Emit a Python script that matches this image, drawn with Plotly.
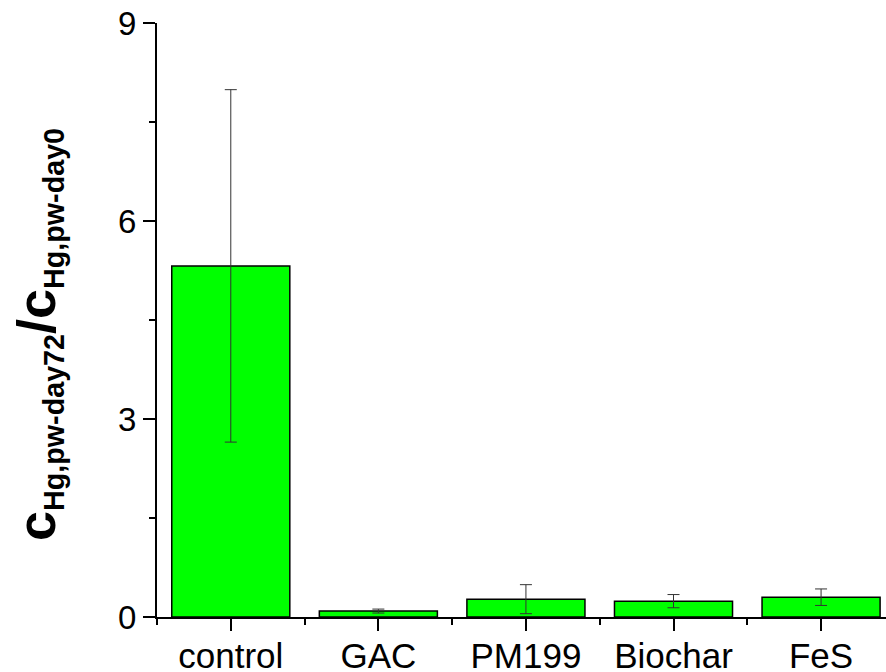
import plotly.graph_objects as go

categories = ["control", "GAC", "PM199", "Biochar", "FeS"]
values = [5.32, 0.09, 0.27, 0.24, 0.30]
errors = [2.67, 0.03, 0.22, 0.10, 0.125]
y_ticks = [0, 3, 6, 9]

xpos = list(range(len(categories)))

fig = go.Figure()
fig.add_trace(go.Bar(
    x=xpos, y=values, width=0.8,
    marker=dict(color="#00ff00", line=dict(color="black", width=1.5)),
    error_y=dict(type="data", array=errors, visible=True, color="#333333", thickness=1, width=6),
))

W, H = 886, 672
ml, mr, mt, mb = 157, 0, 23, 55
fig.update_layout(
    width=W, height=H,
    margin=dict(l=ml, r=mr, t=mt, b=mb, autoexpand=False),
    plot_bgcolor="white", paper_bgcolor="white",
    showlegend=False,
    font=dict(family="Liberation Sans, Arial, sans-serif", color="black"),
)
fig.update_xaxes(
    range=[-0.5, 4.44], automargin=False,
    tickmode="array", tickvals=xpos, ticktext=categories,
    ticks="outside", ticklen=12, tickwidth=2, tickcolor="black",
    tickfont=dict(size=35, family="Liberation Sans, Arial, sans-serif", color="black"),
    ticklabelstandoff=-5,
    showline=True, linecolor="black", linewidth=2,
    showgrid=False, zeroline=False,
    minor=dict(tickvals=[i - 0.5 for i in xpos], ticks="outside", ticklen=6, tickwidth=2, tickcolor="black"),
)
fig.update_yaxes(
    range=[0, 9], automargin=False,
    tickmode="array", tickvals=y_ticks,
    ticks="outside", ticklen=12, tickwidth=2, tickcolor="black",
    tickfont=dict(size=33, family="Liberation Sans, Arial, sans-serif", color="black"),
    showline=True, linecolor="black", linewidth=2,
    showgrid=False, zeroline=False,
    minor=dict(tickvals=[1.5, 4.5, 7.5], ticks="outside", ticklen=6, tickwidth=2, tickcolor="black"),
)

fig.add_annotation(
    text="<b><span style='font-size:54px'>c</span><sub>Hg,pw-day72</sub>"
         "<span style='font-size:54px'>/c</span><sub>Hg,pw-day0</sub></b>",
    xref="paper", yref="paper",
    x=(38 - ml) / (W - ml - mr), y=(H - mb - 335) / (H - mt - mb),
    xanchor="center", yanchor="middle",
    textangle=-90, showarrow=False,
    font=dict(size=41, family="Liberation Sans, Arial, sans-serif", color="black"),
)

fig.write_html("out.html", config={"displayModeBar": False},
               post_script="document.body.style.margin='0';document.body.style.overflow='hidden';")
